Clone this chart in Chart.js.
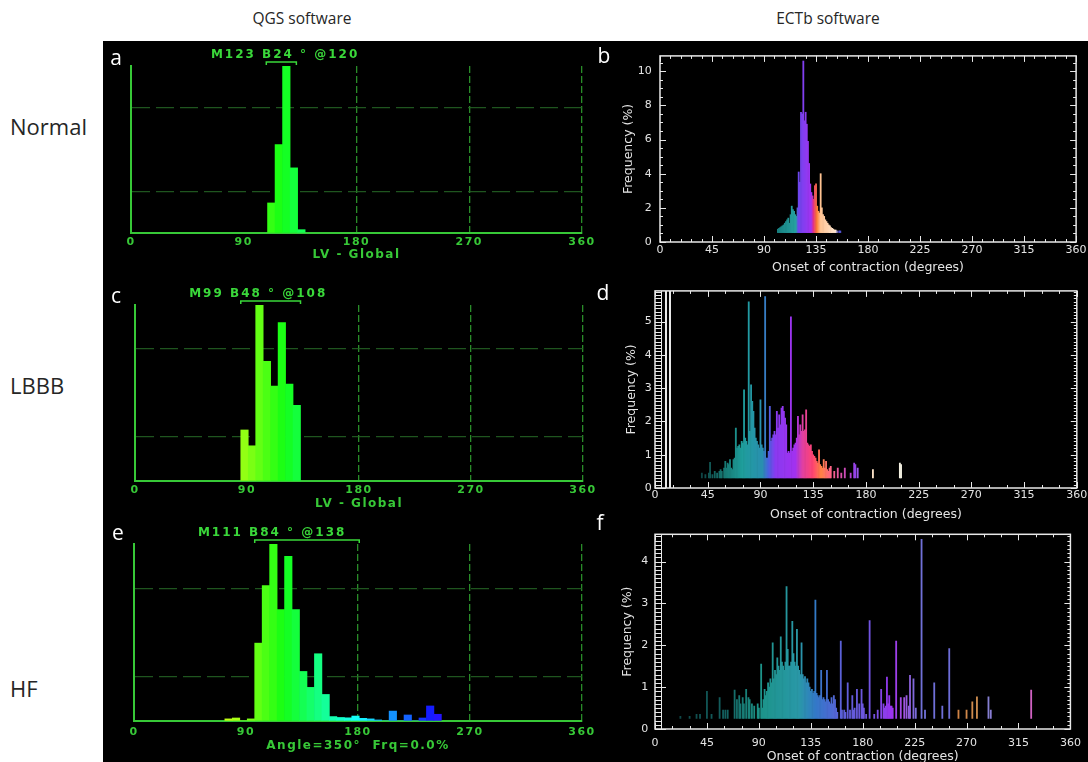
<!DOCTYPE html>
<html>
<head>
<meta charset="utf-8">
<script src="https://cdn.jsdelivr.net/npm/chart.js@4.4.1/dist/chart.umd.min.js"></script>
<style>
  html, body { margin: 0; padding: 0; background: #fff; overflow: hidden; }
  #page { position: relative; width: 1088px; height: 762px; }
  #dark { position: absolute; left: 103px; top: 41px; width: 985px; height: 721px; background: #000; }
  canvas { position: absolute; }
  .txt { position: absolute; white-space: nowrap; font-family: "Open Sans", sans-serif; }
  .head { color: #262626; font-size: 15.5px; transform: translate(-50%, -50%); }
  .row { color: #262626; font-size: 22px; transform: translateY(-50%); }
  .tag { color: #fff; font-size: 21px; transform: translate(-50%, -50%); line-height: 1; }
</style>
</head>
<body>
<div id="page">
  <div id="dark"></div>
  <div class="txt head" style="left:302px; top:18px;">QGS software</div>
  <div class="txt head" style="left:828px; top:18px;">ECTb software</div>
  <div class="txt row" style="left:10px; top:126px;">Normal</div>
  <div class="txt row" style="left:10px; top:385px;">LBBB</div>
  <div class="txt row" style="left:10px; top:688px;">HF</div>

  <canvas id="qa" width="500" height="240" style="left:103px; top:41px;"></canvas>
  <canvas id="qc" width="500" height="240" style="left:103px; top:281px;"></canvas>
  <canvas id="qe" width="500" height="241" style="left:103px; top:521px;"></canvas>
  <canvas id="eb" width="500" height="240" style="left:588px; top:41px;"></canvas>
  <canvas id="ed" width="500" height="246" style="left:588px; top:281px;"></canvas>
  <canvas id="ef" width="500" height="244" style="left:588px; top:521px;"></canvas>

  <div class="txt tag" style="left:116px; top:57px;">a</div>
  <div class="txt tag" style="left:604px; top:55px;">b</div>
  <div class="txt tag" style="left:116px; top:295px;">c</div>
  <div class="txt tag" style="left:603px; top:292px;">d</div>
  <div class="txt tag" style="left:118px; top:532px;">e</div>
  <div class="txt tag" style="left:600px; top:522px;">f</div>
</div>
<script>
// ---------- QGS phase histograms (6-degree bins, bin centres; height relative to the peak bin = 100) ----------
const qgsNormalAngles = [112, 118, 124, 130, 136];
const qgsNormalRel    = [18, 53, 100, 39, 2];
const qgsNormalStats  = { mean: 123, band: 24, bandStart: 108, peak: 120 };

const qgsLbbbAngles = [88, 94, 100, 106, 112, 118, 124, 130];
const qgsLbbbRel    = [29, 20, 100, 68, 54, 90, 55, 43];
const qgsLbbbStats  = { mean: 99, band: 48, bandStart: 85, peak: 108 };

const qgsHfAngles = [76, 82, 88, 94, 100, 106, 112, 118, 124, 130, 136, 142, 148, 154, 160, 166, 172, 178, 184, 190, 196, 202, 208, 214, 220, 226, 232, 238, 244];
const qgsHfRel    = [1.2, 1.7, 0, 1.2, 44, 76.5, 100, 63, 93, 63, 28, 19, 38, 15, 2.5, 2, 1.8, 2.8, 1.5, 1.2, 0.6, 0, 5.6, 0, 3.4, 0, 1.7, 8.5, 3.8];
const qgsHfStats  = { mean: 111, band: 84, bandStart: 97, peak: 138 };

const qgsTicks = [0, 90, 180, 270, 360];

// ---------- ECTb onset-of-contraction histograms (1-degree bins, frequency in %) ----------
const ectbNormalAngles = [102, 103, 104, 105, 106, 107, 108, 109, 110, 111, 112, 113, 114, 115, 116, 117, 118, 119, 120, 121, 122, 123, 124, 125, 126, 127, 128, 129, 130, 131, 132, 133, 134, 135, 136, 137, 138, 139, 140, 141, 142, 143, 144, 145, 146, 147, 148, 149, 150, 151, 152, 153, 155, 156];
const ectbNormalFreq   = [0.75, 0.8, 0.85, 0.9, 0.95, 1.0, 1.1, 1.2, 1.3, 1.4, 1.1, 1.6, 2.1, 1.9, 1.8, 1.6, 1.5, 2.0, 4.1, 3.5, 7.6, 7.5, 10.6, 7.1, 7.6, 6.9, 5.9, 4.6, 3.4, 2.9, 2.7, 2.5, 3.3, 3.4, 2.1, 1.8, 1.7, 4.0, 2.0, 1.6, 1.5, 1.3, 1.2, 1.1, 1.0, 0.95, 0.85, 0.8, 0.75, 0.7, 0.7, 0.65, 0.65, 0.65];

const ectbLbbbAngles = [40, 43, 46, 47, 49, 51, 53, 55, 56, 57, 59, 60, 61, 62, 63, 64, 65, 66, 67, 68, 69, 70, 71, 72, 73, 74, 75, 76, 77, 78, 79, 80, 81, 82, 83, 84, 85, 86, 87, 88, 89, 90, 91, 92, 93, 94, 95, 96, 97, 98, 99, 100, 101, 102, 103, 104, 105, 106, 107, 108, 109, 110, 111, 112, 113, 114, 115, 116, 117, 118, 119, 120, 121, 122, 123, 124, 125, 126, 127, 128, 129, 130, 131, 132, 133, 134, 135, 136, 137, 138, 139, 140, 141, 142, 143, 144, 145, 146, 147, 148, 149, 150, 153, 156, 159, 162, 167, 170, 171, 173, 186, 209, 210];
const ectbLbbbFreq   = [0.45, 0.4, 0.45, 0.77, 0.4, 0.5, 0.45, 0.5, 0.55, 0.5, 0.6, 0.8, 0.6, 0.75, 0.7, 0.85, 0.6, 0.55, 0.85, 0.9, 1.8, 1.2, 1.25, 1.3, 1.2, 1.4, 1.35, 2.95, 1.5, 1.4, 1.3, 5.59, 1.7, 3.1, 2.6, 2.3, 1.8, 1.5, 1.4, 1.3, 1.2, 2.65, 1.3, 1.2, 1.1, 5.75, 0.9, 0.9, 1.1, 2.45, 1.4, 1.5, 1.6, 1.7, 1.6, 2.3, 1.8, 2.2, 1.9, 2.4, 2.45, 2.3, 2.1, 1.9, 1.05, 1.1, 1.05, 5.14, 1.1, 1.2, 1.3, 1.35, 1.5, 2.15, 1.6, 1.9, 1.7, 2.2, 1.7, 1.75, 2.35, 1.35, 1.3, 1.25, 1.3, 1.1, 1.0, 0.95, 0.9, 0.8, 0.75, 1.15, 0.7, 0.65, 0.6, 0.85, 0.6, 0.8, 0.55, 0.5, 0.6, 0.65, 0.5, 0.6, 0.45, 0.6, 0.45, 0.75, 0.7, 0.6, 0.55, 0.75, 0.7];

const ectbHfAngles = [22, 30, 36, 39, 45, 49, 56, 59, 61, 63, 69, 71, 73, 74, 76, 77, 79, 81, 82, 84, 86, 89, 90, 92, 93, 94, 95, 96, 97, 98, 99, 100, 101, 102, 103, 104, 105, 106, 107, 108, 109, 110, 111, 112, 113, 114, 115, 116, 117, 118, 119, 120, 121, 122, 123, 124, 125, 126, 127, 128, 129, 130, 131, 132, 133, 134, 135, 136, 137, 138, 139, 140, 141, 142, 143, 144, 145, 146, 147, 148, 149, 150, 151, 152, 153, 154, 155, 156, 157, 158, 161, 162, 164, 165, 167, 169, 171, 172, 173, 175, 177, 179, 180, 181, 183, 186, 190, 193, 196, 198, 199, 200, 201, 202, 203, 204, 205, 206, 209, 213, 216, 218, 220, 221, 224, 226, 231, 234, 242, 249, 255, 263, 270, 275, 279, 289, 291, 326];
const ectbHfFreq   = [0.3, 0.3, 0.35, 0.35, 0.9, 0.35, 0.75, 0.45, 0.45, 0.45, 0.93, 0.7, 0.8, 0.6, 0.75, 0.6, 0.95, 0.75, 0.7, 0.6, 0.55, 0.6, 0.5, 1.55, 0.5, 0.7, 0.95, 0.8, 0.9, 1.1, 1.0, 1.2, 1.1, 2.06, 1.2, 1.4, 1.3, 1.7, 1.5, 1.4, 2.2, 1.6, 1.5, 1.4, 1.6, 3.4, 1.9, 1.5, 1.5, 1.6, 2.57, 1.8, 1.6, 1.5, 2.38, 1.5, 1.4, 1.3, 2.06, 1.3, 1.2, 1.25, 1.1, 1.2, 1.1, 1.0, 0.9, 0.95, 0.85, 0.9, 3.08, 0.85, 0.8, 0.75, 0.8, 1.4, 0.7, 0.75, 0.7, 0.65, 1.4, 0.7, 0.65, 0.6, 0.75, 0.6, 0.8, 0.7, 0.5, 0.4, 2.1, 0.45, 0.45, 0.4, 1.1, 0.45, 0.8, 0.45, 0.5, 0.95, 0.6, 0.95, 0.6, 0.5, 0.35, 2.59, 0.35, 0.45, 0.95, 0.6, 0.5, 0.55, 1.24, 0.6, 0.8, 0.55, 0.55, 0.5, 2.1, 0.75, 0.75, 0.8, 0.55, 1.28, 1.2, 0.5, 4.53, 0.45, 1.1, 0.55, 1.92, 0.45, 0.45, 0.65, 0.77, 0.77, 0.45, 0.93];

const ectbTicks = [0, 45, 90, 135, 180, 225, 270, 315, 360];

// ---------- styling helpers ----------
const QGS_GREEN = '#37c837';
const QGS_TEXT = '#3ad83a';
const ECTB_TEXT = '#e4e4e4';

function hexToRgb(h) { const n = parseInt(h.slice(1), 16); return [(n >> 16) & 255, (n >> 8) & 255, n & 255]; }
function ramp(stops, v) {
  if (v <= stops[0][0]) return stops[0][1];
  for (let i = 1; i < stops.length; i++) {
    if (v <= stops[i][0]) {
      const t = (v - stops[i - 1][0]) / (stops[i][0] - stops[i - 1][0]);
      const a = hexToRgb(stops[i - 1][1]), b = hexToRgb(stops[i][1]);
      return 'rgb(' + a.map((c, k) => Math.round(c + (b[k] - c) * t)).join(',') + ')';
    }
  }
  return stops[stops.length - 1][1];
}

// colour tables of the ECTb phase palette for each study
const normalPalette = [[100, '#167c7c'], [118, '#27a2a2'], [119.5, '#6a48ee'], [131, '#a432f2'], [133, '#e23482'], [136, '#ff7c34'], [139, '#ffc392'], [152, '#ffe6cf'], [154, '#5252d2'], [160, '#5252d2']];
const lbbbPalette = [[40, '#0f4646'], [60, '#177a74'], [75, '#1f9e9c'], [92, '#2a8fb0'], [97, '#4a62e0'], [103, '#8a3af0'], [120, '#a232f0'], [126, '#e040a2'], [135, '#ff4472'], [142, '#ff8244'], [150, '#ff6486'], [165, '#c044c4'], [172, '#8a42f0'], [180, '#ffe0c2'], [212, '#f2f2e4']];
const hfPalette = [[0, '#0d3c3c'], [60, '#135e5e'], [90, '#1c9488'], [125, '#2a98a8'], [140, '#3478c8'], [160, '#5a62d8'], [190, '#7652e2'], [205, '#9a32f0'], [215, '#a452e0'], [228, '#7272d8'], [258, '#6c6cd8'], [261, '#d08244'], [282, '#d09052'], [286, '#8282d2'], [300, '#9272d2'], [320, '#d062c2'], [360, '#d062c2']];

// ---------- plugins ----------
const qgsLook = {
  id: 'qgsLook',
  beforeDraw(chart) { chart.ctx.letterSpacing = '1.5px'; }
};

const qgsHeader = {
  id: 'qgsHeader',
  afterDatasetsDraw(chart, args, o) {
    const { ctx, chartArea, scales: { x } } = chart;
    ctx.save();
    ctx.letterSpacing = '2px';
    ctx.fillStyle = QGS_TEXT;
    ctx.font = 'bold 12px "DejaVu Sans"';
    ctx.textAlign = 'center';
    ctx.textBaseline = 'middle';
    ctx.fillText('M' + o.mean + ' B' + o.band + ' \u00b0 @' + o.peak, x.getPixelForValue(o.mean), chartArea.top - 11);
    const x0 = x.getPixelForValue(o.bandStart), x1 = x.getPixelForValue(o.bandStart + o.band);
    const yb = chartArea.top - 4;
    ctx.strokeStyle = QGS_TEXT;
    ctx.lineWidth = 1.5;
    ctx.beginPath();
    ctx.moveTo(x0, yb + 3); ctx.lineTo(x0, yb); ctx.lineTo(x1, yb); ctx.lineTo(x1, yb + 3);
    ctx.stroke();
    ctx.restore();
  }
};

// boxed frame with inward tick marks (and the dense left comb of the ECTb plots)
const ectbFrame = {
  id: 'ectbFrame',
  afterDatasetsDraw(chart, args, o) {
    const { ctx, chartArea: a, scales: { x, y } } = chart;
    ctx.save();
    ctx.strokeStyle = '#e8e8e8';
    ctx.lineWidth = 1.5;
    ctx.strokeRect(a.left, a.top, a.right - a.left, a.bottom - a.top);
    ctx.lineWidth = 1;
    ctx.beginPath();
    for (let v = 0; v <= 360; v += o.xMinor) {
      const px = Math.round(x.getPixelForValue(v)) + 0.5;
      const len = v % 45 === 0 ? 6 : 3;
      ctx.moveTo(px, a.bottom); ctx.lineTo(px, a.bottom - len);
      ctx.moveTo(px, a.top); ctx.lineTo(px, a.top + len);
    }
    const n = Math.floor(y.max / o.yMinor + 1e-6);
    for (let i = 0; i <= n; i++) {
      const v = i * o.yMinor;
      const py = Math.round(y.getPixelForValue(v)) + 0.5;
      const r = v / o.yMajor;
      const major = Math.abs(r - Math.round(r)) < 1e-6;
      const lenL = o.comb ? o.comb : (major ? 6 : 3);
      ctx.moveTo(a.left, py); ctx.lineTo(a.left + lenL + (o.comb && major ? 5 : 0), py);
      ctx.moveTo(a.right, py); ctx.lineTo(a.right - (major ? 6 : 3), py);
    }
    if (o.comb) { ctx.moveTo(a.left + o.comb + 0.5, a.top); ctx.lineTo(a.left + o.comb + 0.5, a.bottom); }
    ctx.stroke();
    (o.rails || []).forEach(off => {
      ctx.lineWidth = 2;
      ctx.beginPath();
      ctx.moveTo(a.left + off, a.top); ctx.lineTo(a.left + off, a.bottom);
      ctx.stroke();
    });
    ctx.restore();
  }
};

// ---------- chart builders ----------
function qgsChart(id, angles, rel, stats, xTitle, g) {
  return new Chart(document.getElementById(id), {
    type: 'bar',
    data: {
      datasets: [{
        data: angles.map((a, i) => ({ x: a, y: rel[i] })),
        backgroundColor: angles.map(a => 'hsl(' + a + ',100%,54%)'),
        borderWidth: 0, barPercentage: 1, categoryPercentage: 1
      }]
    },
    options: {
      responsive: false, animation: false, devicePixelRatio: 1,
      layout: { padding: g.pad },
      plugins: { legend: { display: false }, tooltip: { enabled: false }, qgsHeader: stats },
      scales: {
        x: {
          type: 'linear', min: 0, max: 360, offset: false,
          afterFit: s => { s.height = g.xh; },
          afterBuildTicks: s => { s.ticks = qgsTicks.map(v => ({ value: v })); },
          ticks: { color: QGS_GREEN, font: { family: 'DejaVu Sans', weight: 'bold', size: 11 }, padding: g.tickPad, maxRotation: 0, autoSkip: false },
          grid: { offset: false, drawTicks: false, lineWidth: 1.3, color: c => (c.tick && c.tick.value >= 180) ? 'rgba(48,165,48,0.85)' : 'rgba(0,0,0,0)' },
          border: { display: true, color: QGS_GREEN, width: 2, dash: [7, 3] },
          title: { display: true, text: xTitle, color: QGS_GREEN, font: { family: 'DejaVu Sans', weight: 'bold', size: 12 }, padding: { top: 0, bottom: g.titlePad } }
        },
        y: {
          min: 0, max: 100,
          afterFit: s => { s.width = 0; },
          ticks: { display: false, stepSize: 25 },
          grid: { drawTicks: false, lineWidth: 1.2, color: c => (c.tick && (c.tick.value === 25 || c.tick.value === 75)) ? 'rgba(36,100,36,0.85)' : 'rgba(0,0,0,0)' },
          border: { display: true, color: QGS_GREEN, width: 2, dash: [18, 6] }
        }
      }
    },
    plugins: [qgsLook, qgsHeader]
  });
}

function ectbChart(id, angles, freq, palette, g) {
  const font = { family: 'DejaVu Sans', size: 11 };
  const titleFont = { family: 'DejaVu Sans', size: 12.5 };
  return new Chart(document.getElementById(id), {
    type: 'bar',
    data: {
      datasets: [{
        data: angles.map((a, i) => ({ x: a, y: freq[i] })),
        backgroundColor: angles.map(a => ramp(palette, a)),
        borderWidth: 0, barPercentage: 1, categoryPercentage: 1,
        base: g.base
      }]
    },
    options: {
      responsive: false, animation: false, devicePixelRatio: 1,
      layout: { padding: g.pad },
      plugins: { legend: { display: false }, tooltip: { enabled: false }, ectbFrame: g.frame },
      scales: {
        x: {
          type: 'linear', min: 0, max: 360, offset: false,
          afterFit: s => { s.height = g.xh; },
          afterBuildTicks: s => { s.ticks = ectbTicks.map(v => ({ value: v })); },
          ticks: { color: ECTB_TEXT, font, padding: g.xTickPad, maxRotation: 0, autoSkip: false },
          grid: { display: false, drawTicks: false, offset: false },
          border: { display: false },
          title: { display: true, text: 'Onset of contraction (degrees)', color: ECTB_TEXT, font: titleFont, padding: { top: 0, bottom: g.xTitlePad } }
        },
        y: {
          min: 0, max: g.ymax,
          afterFit: s => { s.width = 40; },
          ticks: {
            stepSize: g.yStep, color: ECTB_TEXT, font, padding: g.yTickPad,
            callback: v => { const r = v / g.yStep; return Math.abs(r - Math.round(r)) < 1e-6 ? String(v) : ''; }
          },
          grid: { display: false, drawTicks: false },
          border: { display: false },
          title: { display: true, text: 'Frequency (%)', color: ECTB_TEXT, font: titleFont, padding: { top: g.yTitlePad, bottom: 0 } }
        }
      }
    },
    plugins: [ectbFrame]
  });
}

// ---------- panels ----------
qgsChart('qa', qgsNormalAngles, qgsNormalRel, qgsNormalStats, 'LV - Global',
  { pad: { left: 28, top: 25, right: 21, bottom: 18 }, xh: 30, tickPad: 2.4, titlePad: 0.8 });
qgsChart('qc', qgsLbbbAngles, qgsLbbbRel, qgsLbbbStats, 'LV - Global',
  { pad: { left: 32, top: 24, right: 20, bottom: 10 }, xh: 30, tickPad: 2.7, titlePad: 0.1 });
qgsChart('qe', qgsHfAngles, qgsHfRel, qgsHfStats, 'Angle=350\u00b0  Frq=0.0%',
  { pad: { left: 31, top: 23, right: 21, bottom: 8 }, xh: 33, tickPad: 4.1, titlePad: 0.8 });

ectbChart('eb', ectbNormalAngles, ectbNormalFreq, normalPalette,
  { pad: { left: 32, top: 7, right: 10, bottom: 5 }, xh: 34, xTickPad: 1.4, xTitlePad: 0.8, yTickPad: 8.3, yTitlePad: 1.2,
    ymax: 10.9, yStep: 2, base: 0.55, frame: { xMinor: 9, yMinor: 0.5, yMajor: 2 } });
ectbChart('ed', ectbLbbbAngles, ectbLbbbFreq, lbbbPalette,
  { pad: { left: 27, top: 8, right: 11, bottom: 3 }, xh: 36, xTickPad: 0.7, xTitlePad: 1.5, yTickPad: 3.3, yTitlePad: 9.6,
    ymax: 5.92, yStep: 1, base: 0.3, frame: { xMinor: 15, yMinor: 0.1, yMajor: 1, comb: 6, rails: [11, 15] } });
ectbChart('ef', ectbHfAngles, ectbHfFreq, hfPalette,
  { pad: { left: 27, top: 11, right: 13, bottom: 0 }, xh: 36, xTickPad: 7.1, xTitlePad: 0.5, yTickPad: 6.7, yTitlePad: 5.2,
    ymax: 4.65, yStep: 1, base: 0.25, frame: { xMinor: 15, yMinor: 0.1, yMajor: 1, comb: 6 } });
</script>
</body>
</html>
